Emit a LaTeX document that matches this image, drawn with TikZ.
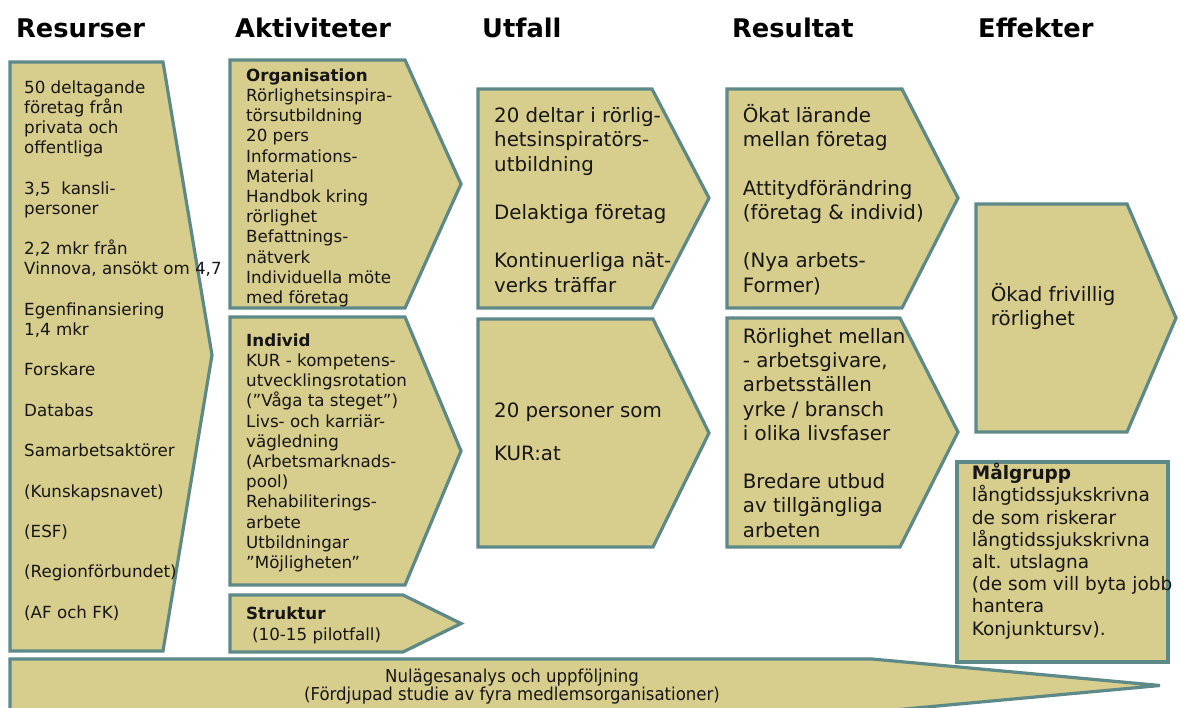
\documentclass[tikz,border=0pt]{standalone}
\usepackage{fontspec}
\setmainfont{DejaVu Sans}
\newfontfamily\narrowfont{DejaVu Sans}[FakeStretch=0.93]
\definecolor{khaki}{RGB}{215,205,140}
\definecolor{edge}{RGB}{93,137,137}
\definecolor{ink}{RGB}{22,22,22}

\begin{document}
\begin{tikzpicture}[x=1pt,y=-1pt,
  panel/.style={draw=edge, fill=khaki, line width=3.2pt, line join=miter},
  head/.style={anchor=base west, inner sep=0pt, font=\bfseries\fontsize{25.7}{30}\selectfont},
  % multi-line texts are placed by the baseline of their last line
  txt/.style={anchor=base west, inner sep=0pt, align=left, text=ink},
  small/.style={txt, font=\fontsize{16.7}{20.2}\selectfont},
  large/.style={txt, font=\fontsize{19.8}{24.2}\selectfont},
  target/.style={txt, font=\fontsize{18.5}{22.2}\selectfont},
]
\useasboundingbox (0,0) rectangle (1180,707);

% column headings
\node[head] (hres) at (16,37)  {Resurser};
\node[head] (hakt) at (235,37) {Aktiviteter};
\node[head] (hutf) at (482,37) {Utfall};
\node[head] (hrst) at (732,37) {Resultat};
\node[head] (heff) at (978,37) {Effekter};

% panels
\draw[panel] (10,62) -- (163,62) -- (212,355) -- (163,651) -- (10,651) -- cycle;
\draw[panel] (230,60) -- (405,60) -- (461,184) -- (405,308) -- (230,308) -- cycle;
\draw[panel] (230,317) -- (405,317) -- (461,451) -- (405,585) -- (230,585) -- cycle;
\draw[panel] (230,595) -- (403,595) -- (461,623.5) -- (403,652) -- (230,652) -- cycle;
\draw[panel] (478,89) -- (652,89) -- (709,198) -- (652,308) -- (478,308) -- cycle;
\draw[panel] (478,319) -- (653,319) -- (709,433) -- (653,547) -- (478,547) -- cycle;
\draw[panel] (727,89) -- (902,89) -- (958,198) -- (902,308) -- (727,308) -- cycle;
\draw[panel] (727,318) -- (900,318) -- (958,432) -- (900,547) -- (727,547) -- cycle;
\draw[panel] (976,204) -- (1127,204) -- (1176,318) -- (1127,432) -- (976,432) -- cycle;
\draw[panel] (957,462) rectangle (1168,662);
\draw[panel] (10,659) -- (872,659) -- (1160,685.5) -- (872,712) -- (10,712) -- cycle;

% Resurser
\node[small] (resurser) at (24,618.2) {50 deltagande\\företag från\\privata och\\offentliga\\[20.2pt]
3,5~~kansli-\\personer\\[20.2pt]
2,2 mkr från\\Vinnova, ansökt om 4,7\\[20.2pt]
Egenfinansiering\\1,4 mkr\\[20.2pt]
Forskare\\[20.2pt]Databas\\[20.2pt]Samarbetsaktörer\\[20.2pt](Kunskapsnavet)\\[20.2pt]
(ESF)\\[20.2pt](Regionförbundet)\\[20.2pt](AF och FK)};

% Aktiviteter
\node[small] (org) at (246,303.5) {\textbf{Organisation}\\Rörlighetsinspira-\\törsutbildning\\20 pers\\Informations-\\Material\\Handbok kring\\rörlighet\\Befattnings-\\nätverk\\Individuella möte\\med företag};
\node[small] (ind) at (246,568.5) {\textbf{Individ}\\KUR - kompetens-\\utvecklingsrotation\\(”Våga ta steget”)\\Livs- och karriär-\\vägledning\\(Arbetsmarknads-\\pool)\\Rehabiliterings-\\arbete\\Utbildningar\\”Möjligheten”};
\node[small] (str) at (246,640) {\textbf{Struktur}\\\hspace{6pt}(10-15 pilotfall)};

% Utfall
\node[large] (utf1) at (494,292) {20 deltar i rörlig-\\hetsinspiratörs-\\utbildning\\[24.2pt]
Delaktiga företag\\[24.2pt]Kontinuerliga nät-\\verks träffar};
\node[large] (utf2) at (494,460) {20 personer som\\[18.5pt]KUR:at};

% Resultat
\node[large] (rst1) at (742.7,292) {Ökat lärande\\mellan företag\\[24.2pt]
Attitydförändring\\(företag \& individ)\\[24.2pt](Nya arbets-\\Former)};
\node[large] (rst2) at (742.7,537) {Rörlighet mellan\\- arbetsgivare,\\arbetsställen\\yrke / bransch\\i olika livsfaser\\[24.2pt]
Bredare utbud\\av tillgängliga\\arbeten};

% Effekter
\node[large, font=\fontsize{19.8}{23.5}\selectfont] (eff) at (990.7,325) {Ökad frivillig\\rörlighet};

% Målgrupp
\node[target] (mal) at (971.7,635) {\textbf{Målgrupp}\\långtidssjukskrivna\\de som riskerar\\långtidssjukskrivna\\alt. utslagna\\(de som vill byta jobb\\hantera\\Konjunktursv).};

% bottom band
\node[anchor=base, inner sep=0pt, align=center, text=ink, font=\narrowfont\fontsize{17.8}{18}\selectfont] (bottom) at (512,700)
  {Nulägesanalys och uppföljning\\(Fördjupad studie av fyra medlemsorganisationer)};
\end{tikzpicture}
\end{document}
